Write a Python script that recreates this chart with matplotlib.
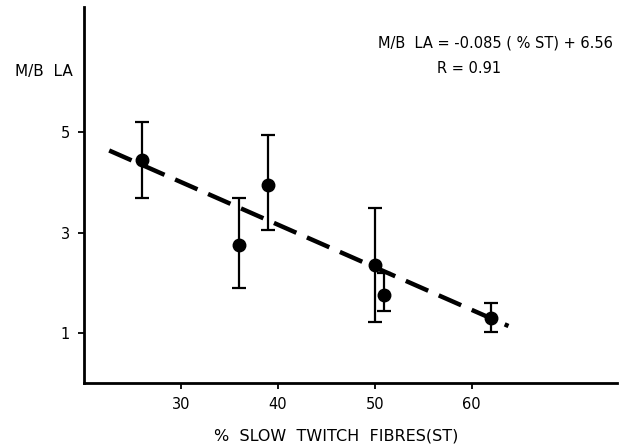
import numpy as np
import matplotlib.pyplot as plt

#------------------------------------------- Data -------------------------------------#
st_pct = [26, 36, 39, 50, 51, 62]                # % slow twitch fibres
mb_la = [4.44, 2.75, 3.96, 2.35, 1.75, 1.30]     # M/B LA means
err_hi = [5.20, 3.69, 4.94, 3.50, 2.20, 1.60]    # top of error bar
err_lo = [3.69, 1.90, 3.05, 1.22, 1.44, 1.02]    # bottom of error bar

slope, intercept = -0.085, 6.56
fit_range = [22.6, 63.8]

x_ticks = [30, 40, 50, 60]
y_ticks = [1, 3, 5]

#--------------------------------------------- Plot -----------------------------------#
plt.rcParams['font.family'] = 'DejaVu Sans'
fig = plt.figure(figsize=(6.33, 4.48), dpi=100)
ax = fig.add_axes([0.1327, 0.1451, 0.842, 0.839])

fx = np.array(fit_range)
ax.plot(fx, slope * fx + intercept, color="black", lw=3.2, ls=(0, (5.5, 2.6)),
        zorder=2)

yerr = [np.array(mb_la) - np.array(err_lo), np.array(err_hi) - np.array(mb_la)]
ax.errorbar(st_pct, mb_la, yerr=yerr, fmt="o", color="black", ms=9,
            elinewidth=1.6, capsize=5, capthick=1.6, zorder=3)

ax.set_xlim(20, 75)
ax.set_ylim(0, 7.5)
ax.set_xticks(x_ticks)
ax.set_yticks(y_ticks)
ax.tick_params(labelsize=10.5, width=1.3, length=4, pad=6)
for s in ["top", "right"]:
    ax.spines[s].set_visible(False)
for s in ["left", "bottom"]:
    ax.spines[s].set_linewidth(2)

ax.set_xlabel("%  SLOW  TWITCH  FIBRES(ST)", fontsize=11.5)
ax.xaxis.set_label_coords(0.473, -0.12)
fig.text(0.024, 0.84, "M/B  LA", fontsize=11, va="center", ha="left")
fig.text(0.597, 0.904, "M/B  LA = -0.085 ( % ST) + 6.56", fontsize=10.5,
         va="center", ha="left")
fig.text(0.69, 0.848, "R = 0.91", fontsize=10.5, va="center", ha="left")

fig.savefig("out.png", dpi=100)
